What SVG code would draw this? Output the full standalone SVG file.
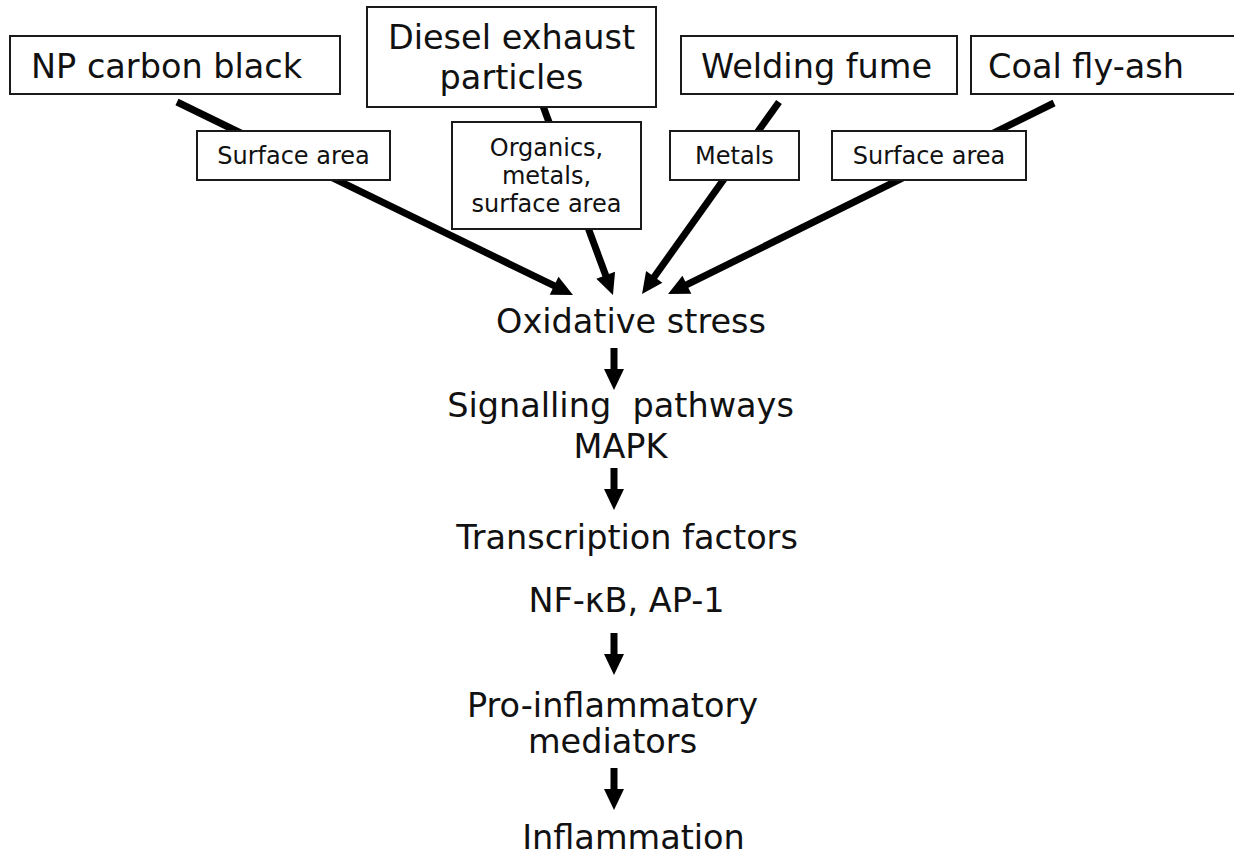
<svg xmlns="http://www.w3.org/2000/svg" width="1234" height="855" viewBox="0 0 1234 855">
  <defs>
    <style>
      .box { fill: #ffffff; stroke: #1a1a1a; stroke-width: 2; }
      .big { font-family: "DejaVu Sans", Verdana, sans-serif; font-size: 33.5px; fill: #111111; }
      .small { font-family: "DejaVu Sans", Verdana, sans-serif; font-size: 24px; fill: #111111; }
      .mid { text-anchor: middle; }
      .edge { stroke: #000000; stroke-width: 7; fill: none; marker-end: url(#head); }
    </style>
    <marker id="head" markerUnits="userSpaceOnUse" markerWidth="21" markerHeight="20" refX="9" refY="10" orient="auto" overflow="visible">
      <path d="M0,0 L21,10 L0,20 z" fill="#000000"/>
    </marker>
  </defs>

  <rect width="1234" height="855" fill="#ffffff"/>

  <!-- connectors -->
  <g id="connectors">
    <line class="edge" x1="177" y1="102" x2="562.2" y2="289.7"/>
    <line class="edge" x1="543" y1="106" x2="608.8" y2="283.7"/>
    <line class="edge" x1="779" y1="102" x2="649.0" y2="284.2"/>
    <line class="edge" x1="1054" y1="103" x2="678.8" y2="288.7"/>
    <line class="edge" x1="614" y1="348" x2="614" y2="378"/>
    <line class="edge" x1="614" y1="468" x2="614" y2="498"/>
    <line class="edge" x1="614" y1="633" x2="614" y2="663"/>
    <line class="edge" x1="614" y1="768" x2="614" y2="798"/>
  </g>

  <!-- edge labels -->
  <g id="label-surface-area-1">
    <rect class="box" x="197" y="131" width="193" height="49"/>
    <text class="small mid" x="293.5" y="164">Surface area</text>
  </g>
  <g id="label-organics">
    <rect class="box" x="452" y="122" width="189" height="107"/>
    <text class="small mid" x="546.5" y="156">Organics,</text>
    <text class="small mid" x="546.5" y="184">metals,</text>
    <text class="small mid" x="546.5" y="212">surface area</text>
  </g>
  <g id="label-metals">
    <rect class="box" x="670" y="131" width="129" height="49"/>
    <text class="small mid" x="734.5" y="164">Metals</text>
  </g>
  <g id="label-surface-area-2">
    <rect class="box" x="832" y="131" width="194" height="49"/>
    <text class="small mid" x="929" y="164">Surface area</text>
  </g>

  <!-- particle sources -->
  <g id="np-carbon-black">
    <rect class="box" x="10" y="36" width="330" height="58"/>
    <text class="big" x="31" y="78">NP carbon black</text>
  </g>
  <g id="diesel-exhaust">
    <rect class="box" x="367" y="7" width="289" height="100"/>
    <text class="big mid" x="511.5" y="49">Diesel exhaust</text>
    <text class="big mid" x="511.5" y="89">particles</text>
  </g>
  <g id="welding-fume">
    <rect class="box" x="681" y="36" width="276" height="58"/>
    <text class="big" x="701" y="78">Welding fume</text>
  </g>
  <g id="coal-fly-ash">
    <rect class="box" x="971" y="36" width="270" height="58"/>
    <text class="big" x="988" y="78">Coal fly-ash</text>
  </g>

  <!-- pathway steps -->
  <g id="oxidative-stress">
    <text class="big mid" x="631" y="333">Oxidative stress</text>
  </g>
  <g id="signalling">
    <text class="big mid" x="620.5" y="417" xml:space="preserve">Signalling  pathways</text>
    <text class="big mid" x="620.5" y="458">MAPK</text>
  </g>
  <g id="transcription-factors">
    <text class="big mid" x="627" y="549">Transcription factors</text>
    <text class="big mid" x="626.5" y="612">NF-κB, AP-1</text>
  </g>
  <g id="mediators">
    <text class="big mid" x="612.5" y="717">Pro-inflammatory</text>
    <text class="big mid" x="612.5" y="753">mediators</text>
  </g>
  <g id="inflammation">
    <text class="big mid" x="633.5" y="849">Inflammation</text>
  </g>
</svg>
